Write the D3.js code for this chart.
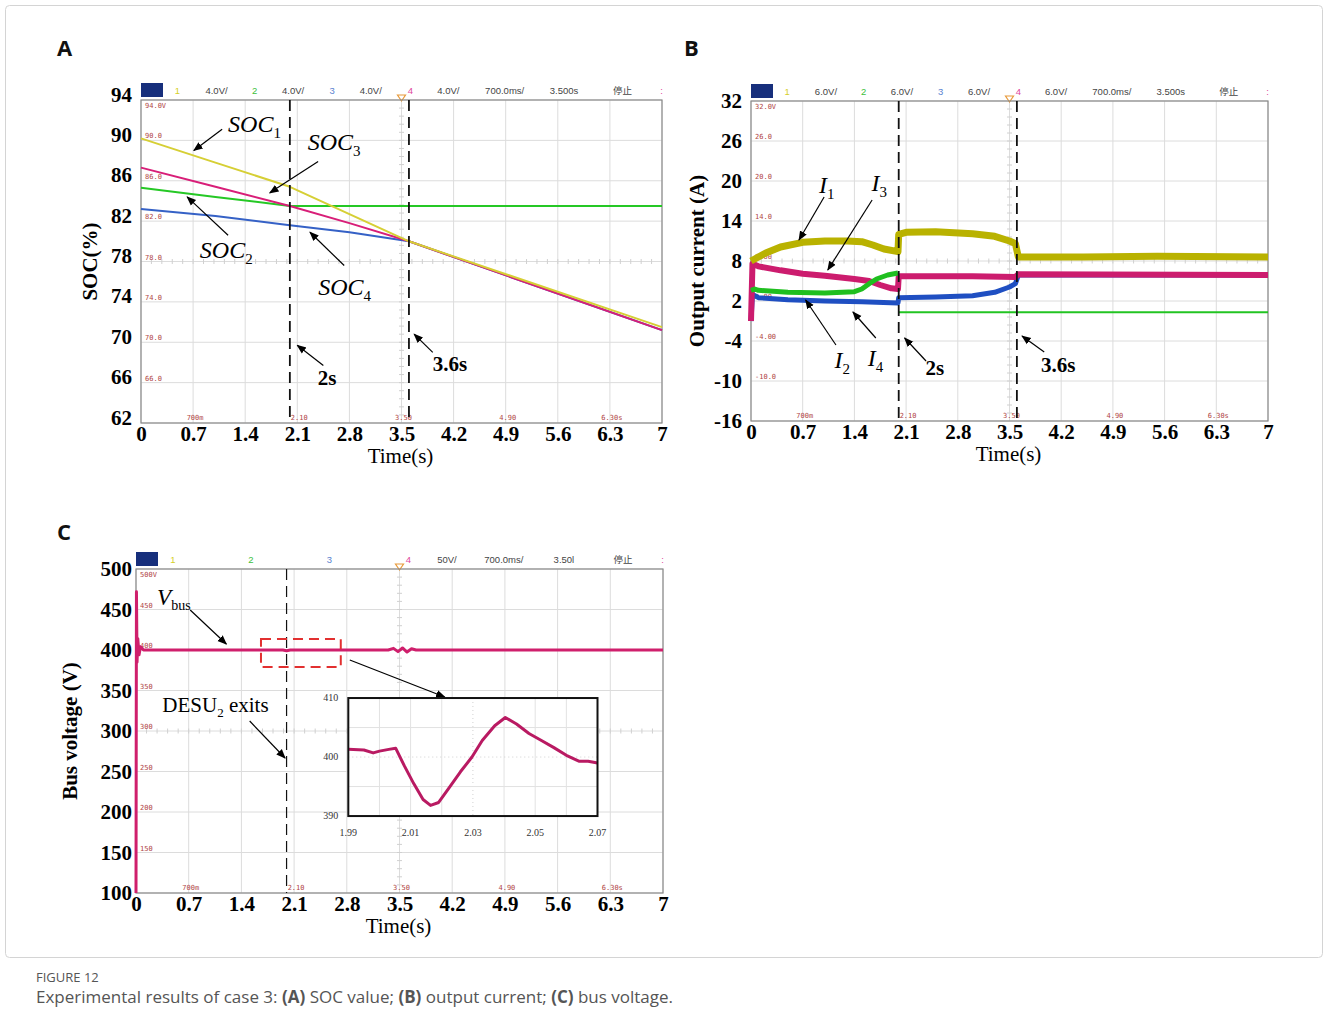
<!DOCTYPE html>
<html>
<head>
<meta charset="utf-8">
<script src="https://cdn.jsdelivr.net/npm/d3@7"></script>
<style>
body { margin: 0; background: #fff; }
</style>
</head>
<body>
<svg width="1328" height="1032" font-family="Liberation Serif, Times New Roman, serif"></svg>
<script>
const timeTicks = [0, 0.7, 1.4, 2.1, 2.8, 3.5, 4.2, 4.9, 5.6, 6.3, 7];
const socTicks = [62, 66, 70, 74, 78, 82, 86, 90, 94];
const currentTicks = [-16, -10, -4, 2, 8, 14, 20, 26, 32];
const voltTicks = [100, 150, 200, 250, 300, 350, 400, 450, 500];
const eventTimes = [2, 3.6];

// (A) SOC
const socTime = [0, 1, 2, 2.8, 3.6, 7];
const soc1 = [90.2, 87.8, 85.4, 82.7, 80.0, 71.5];
const soc2 = [85.3, 84.4, 83.5, 83.5, 83.5, 83.5];
const soc3 = [87.3, 85.4, 83.5, 81.8, 80.0, 71.2];
const soc4 = [83.2, 82.5, 81.6, 80.9, 80.0, 71.2];

// (B) output currents
const i1Time = [0, 0.05, 0.2, 0.4, 0.7, 1.0, 1.3, 1.5, 1.65, 1.8, 1.99, 2.0, 2.1, 2.5, 3.0, 3.3, 3.5, 3.58, 3.62, 4.5, 5.5, 7];
const i1 = [8.0, 8.3, 9.2, 10.1, 10.8, 11.0, 11.0, 10.9, 10.4, 9.8, 9.4, 12.0, 12.3, 12.4, 12.1, 11.7, 11.0, 10.6, 8.6, 8.6, 8.7, 8.6];
const i2Time = [0, 0.05, 0.1, 0.5, 1.0, 1.4, 1.5, 1.6, 1.7, 1.85, 1.99];
const i2 = [3.6, 3.8, 3.6, 3.3, 3.2, 3.4, 3.8, 4.6, 5.3, 5.9, 6.2];
const i2OffTime = [2, 7];
const i2Off = [0.3, 0.3];
const i3Time = [0, 0.02, 0.1, 0.4, 0.7, 1.0, 1.4, 1.6, 1.75, 1.9, 1.99, 2.0, 3.0, 3.58, 3.62, 7];
const i3 = [-1, 7.6, 7.2, 6.6, 6.1, 5.8, 5.3, 5.0, 4.4, 3.9, 3.8, 5.7, 5.7, 5.6, 6.0, 5.9];
const i4Time = [0, 0.02, 0.1, 0.5, 1.0, 1.5, 1.99, 2.0, 2.5, 3.0, 3.3, 3.5, 3.58, 3.62, 7];
const i4 = [-1, 3.0, 2.5, 2.2, 2.0, 1.9, 1.7, 2.5, 2.6, 2.8, 3.3, 4.1, 4.6, 5.9, 5.9];

// (C) bus voltage
const busTime = [0, 0.006, 0.014, 0.024, 0.04, 0.06, 0.1, 1.95, 2.0, 2.05, 3.35, 3.42, 3.48, 3.54, 3.6, 3.66, 3.72, 7];
const busVolt = [100, 472, 385, 414, 394, 404, 400, 400, 399, 400, 400, 402, 398, 402.5, 397.5, 401.5, 400, 400];
const zoomTime = [1.99, 1.995, 1.998, 2.0, 2.003, 2.0052, 2.008, 2.011, 2.014, 2.0164, 2.019, 2.022, 2.026, 2.0297, 2.033, 2.037, 2.0404, 2.044, 2.048, 2.052, 2.056, 2.06, 2.064, 2.067, 2.07];
const zoomVolt = [401.3, 401.2, 400.7, 401.0, 401.3, 401.5, 398.5, 395.5, 392.8, 391.8, 392.3, 394.5, 397.5, 400.0, 402.8, 405.3, 406.7, 405.6, 404.0, 402.8, 401.6, 400.3, 399.3, 399.3, 399.0];
const zoomTimeTicks = [1.99, 2.01, 2.03, 2.05, 2.07];
const zoomVoltTicks = [390, 400, 410];

// oscilloscope on-screen texts
const scopeTimeMarks = [0.7, 2.1, 3.5, 4.9, 6.3];
const scopeTimeLabels = ["700m", "2.10", "3.50", "4.90", "6.30s"];
const socScopeLabels = ["", "66.0", "70.0", "74.0", "78.0", "82.0", "86.0", "90.0", "94.0V"];
const currentScopeLabels = ["", "-10.0", "-4.00", "2.00", "8.00", "14.0", "20.0", "26.0", "32.0V"];
const voltScopeLabels = ["", "150", "200", "250", "300", "350", "400", "450", "500V"];
const headerA = ["1", "4.0V/", "2", "4.0V/", "3", "4.0V/", "4", "4.0V/", "700.0ms/", "3.500s", "停止", ":"];
const headerB = ["1", "6.0V/", "2", "6.0V/", "3", "6.0V/", "4", "6.0V/", "700.0ms/", "3.500s", "停止", ":"];
const headerC = ["1", "", "2", "", "3", "", "4", "50V/", "700.0ms/", "3.50l", "停止", ":"];

// ---------- layout / style ----------
const headerSlots = [0.07, 0.145, 0.218, 0.292, 0.367, 0.441, 0.517, 0.59, 0.698, 0.812, 0.924, 0.999];
const headerColors = ["#d6cf2a", "#444", "#3cbf3c", "#444", "#5a82d0", "#444", "#e0459a", "#444", "#444", "#444", "#444", "#e0459a"];

const svg = d3.select("svg");

svg.append("defs").append("marker")
    .attr("id", "arr")
    .attr("viewBox", "0 0 10 10")
    .attr("refX", 9).attr("refY", 5)
    .attr("markerWidth", 8).attr("markerHeight", 8)
    .attr("orient", "auto")
    .append("path").attr("d", "M0,1 L10,5 L0,9 z").attr("fill", "#000");

// outer figure frame
svg.append("rect")
    .attr("x", 5.5).attr("y", 5.5).attr("width", 1317).attr("height", 952)
    .attr("rx", 4).attr("fill", "none").attr("stroke", "#d4d4d4");

function scope(cfg) {
    const g = svg.append("g");
    const L = cfg.left, T = cfg.top, W = cfg.width, H = cfg.height;
    const x = d3.scaleLinear().domain([0, 7]).range([L, L + W]);
    const y = d3.scaleLinear().domain(d3.extent(cfg.yTicks)).range([T + H, T]);

    // grid
    g.selectAll(".gx").data(timeTicks).enter().append("line")
        .attr("x1", d => x(d)).attr("x2", d => x(d))
        .attr("y1", T).attr("y2", T + H)
        .attr("stroke", "#dcdcdc").attr("stroke-width", 1);
    g.selectAll(".gy").data(cfg.yTicks).enter().append("line")
        .attr("x1", L).attr("x2", L + W)
        .attr("y1", d => y(d)).attr("y2", d => y(d))
        .attr("stroke", "#dcdcdc").attr("stroke-width", 1);

    // centre axes with minor ticks
    const cx = x(3.5), cy = y(cfg.yTicks[4]);
    const dx = W / 50, dy = H / 40;
    g.selectAll(".mx").data(d3.range(1, 50)).enter().append("line")
        .attr("x1", d => L + d * dx).attr("x2", d => L + d * dx)
        .attr("y1", cy - 2.5).attr("y2", cy + 2.5)
        .attr("stroke", "#d0d0d0");
    g.selectAll(".my").data(d3.range(1, 40)).enter().append("line")
        .attr("y1", d => T + d * dy).attr("y2", d => T + d * dy)
        .attr("x1", cx - 2.5).attr("x2", cx + 2.5)
        .attr("stroke", "#d0d0d0");

    // on-screen red readouts
    g.selectAll(".rl").data(cfg.yTicks).enter().append("text")
        .attr("x", L + 4)
        .attr("y", (d, i) => i === cfg.yTicks.length - 1 ? y(d) + 8 : y(d) - 2)
        .attr("font-family", "DejaVu Sans Mono, monospace")
        .attr("font-size", 7).attr("fill", "#b04545")
        .text((d, i) => cfg.scopeLabels[i]);
    g.selectAll(".rb").data(scopeTimeMarks).enter().append("text")
        .attr("x", d => x(d) + 2).attr("y", T + H - 3)
        .attr("text-anchor", "middle")
        .attr("font-family", "DejaVu Sans Mono, monospace")
        .attr("font-size", 7).attr("fill", "#b04545")
        .text((d, i) => scopeTimeLabels[i]);

    // header bar
    g.append("rect").attr("x", L).attr("y", T - 17).attr("width", 22).attr("height", 14)
        .attr("fill", "#172f7c");
    g.selectAll(".hd").data(cfg.header).enter().append("text")
        .attr("x", (d, i) => L + headerSlots[i] * W)
        .attr("y", T - 6)
        .attr("text-anchor", "middle")
        .attr("font-family", "Liberation Sans, Noto Sans CJK SC, sans-serif")
        .attr("font-size", 9.5)
        .attr("fill", (d, i) => headerColors[i])
        .text(d => d);
    // trigger marker
    g.append("path")
        .attr("d", `M${cx - 4},${T - 5} L${cx + 4},${T - 5} L${cx},${T + 1} z`)
        .attr("fill", "none").attr("stroke", "#e89a3a").attr("stroke-width", 1.2);

    // frame
    g.append("rect").attr("x", L).attr("y", T).attr("width", W).attr("height", H)
        .attr("fill", "none").attr("stroke", "#8a8a8a").attr("stroke-width", 1.2);

    // axes
    const xa = g.append("g").attr("transform", `translate(0,${T + H})`)
        .call(d3.axisBottom(x).tickValues(timeTicks).tickSize(0).tickPadding(3).tickFormat(d => String(d)));
    const ya = g.append("g").attr("transform", `translate(${L},0)`)
        .call(d3.axisLeft(y).tickValues(cfg.yTicks).tickSize(0).tickPadding(cfg.yPad).tickFormat(d => String(d)));
    [xa, ya].forEach(a => {
        a.select(".domain").remove();
        a.selectAll("text").attr("font-family", "Liberation Serif, serif")
            .attr("font-weight", "bold").attr("font-size", 21).attr("fill", "#000");
    });
    ya.selectAll("text").attr("dy", cfg.yDy);

    g.append("text").attr("x", L + W / 2 - 1).attr("y", T + H + 40)
        .attr("text-anchor", "middle").attr("font-size", 21).text("Time(s)");
    g.append("text")
        .attr("transform", `translate(${cfg.titleX},${T + H / 2}) rotate(-90)`)
        .attr("text-anchor", "middle").attr("font-size", 21).attr("font-weight", "bold")
        .text(cfg.title);

    return { g, x, y };
}

function trace(p, t, v, color, width) {
    const line = d3.line().x((d, i) => p.x(t[i])).y(d => p.y(d));
    p.g.append("path").datum(v)
        .attr("d", line)
        .attr("fill", "none").attr("stroke", color)
        .attr("stroke-width", width).attr("stroke-linejoin", "round");
}

function eventLines(p, times, top, bottom, w) {
    p.g.selectAll(".ev").data(times).enter().append("line")
        .attr("x1", d => p.x(d)).attr("x2", d => p.x(d))
        .attr("y1", top).attr("y2", bottom)
        .attr("stroke", "#111").attr("stroke-width", w)
        .attr("stroke-dasharray", "11,6");
}

function arrow(p, from, to) {
    p.g.append("line")
        .attr("x1", p.x(from[0])).attr("y1", p.y(from[1]))
        .attr("x2", p.x(to[0])).attr("y2", p.y(to[1]))
        .attr("stroke", "#000").attr("stroke-width", 1.2)
        .attr("marker-end", "url(#arr)");
}

function mathLabel(p, n) {
    const t = p.g.append("text")
        .attr("x", p.x(n.at[0])).attr("y", p.y(n.at[1]) + 8)
        .attr("font-size", 24).attr("font-style", "italic");
    t.append("tspan").text(n.main);
    t.append("tspan").attr("dy", 6).attr("font-size", 15).attr("font-style", "normal").text(n.sub);
    arrow(p, n.from, n.to);
}

function boldLabel(p, n) {
    p.g.append("text")
        .attr("x", p.x(n.at[0])).attr("y", p.y(n.at[1]) + 7)
        .attr("text-anchor", "middle")
        .attr("font-size", 21).attr("font-weight", "bold").text(n.text);
    arrow(p, n.from, n.to);
}

// ---------- panel A ----------
const pA = scope({ left: 141, top: 100, width: 521, height: 323, yTicks: socTicks,
    scopeLabels: socScopeLabels, header: headerA, title: "SOC(%)", titleX: 97, yPad: 9, yDy: "0.05em" });
trace(pA, socTime, soc4, "#3561c6", 2);
trace(pA, socTime, soc2, "#25c825", 2);
trace(pA, socTime, soc3, "#d81e78", 2);
trace(pA, socTime, soc1, "#d6cf35", 2);
eventLines(pA, eventTimes, 100, 423, 1.8);

const socNotes = [
    { main: "SOC", sub: "1", at: [1.17, 91.6], from: [1.09, 91.1], to: [0.71, 89.0] },
    { main: "SOC", sub: "3", at: [2.24, 89.8], from: [2.38, 87.9], to: [1.73, 84.8] },
    { main: "SOC", sub: "2", at: [0.79, 79.1], from: [1.17, 80.6], to: [0.62, 84.4] },
    { main: "SOC", sub: "4", at: [2.38, 75.5], from: [2.73, 77.6], to: [2.27, 80.9] }
];
socNotes.forEach(n => mathLabel(pA, n));
boldLabel(pA, { text: "2s", at: [2.5, 66.5], from: [2.45, 67.7], to: [2.1, 69.7] });
boldLabel(pA, { text: "3.6s", at: [4.15, 67.8], from: [3.92, 69.0], to: [3.67, 70.8] });

// ---------- panel B ----------
const pB = scope({ left: 751, top: 101, width: 517, height: 320, yTicks: currentTicks,
    scopeLabels: currentScopeLabels, header: headerB, title: "Output current (A)", titleX: 704, yPad: 9, yDy: "0.32em" });
trace(pB, i2OffTime, i2Off, "#22c422", 2);
trace(pB, i4Time, i4, "#1f4fc2", 5);
trace(pB, i3Time, i3, "#cc1c6e", 6);
trace(pB, i2Time, i2, "#1fbf1f", 5);
trace(pB, i1Time, i1, "#b9b200", 7);
eventLines(pB, eventTimes, 101, 421, 1.8);

const curNotes = [
    { main: "I", sub: "1", at: [0.92, 19.4], from: [0.99, 17.6], to: [0.65, 11.15] },
    { main: "I", sub: "3", at: [1.63, 19.7], from: [1.64, 17.15], to: [1.04, 6.65] },
    { main: "I", sub: "2", at: [1.13, -6.85], from: [1.15, -4.6], to: [0.74, 2.15] },
    { main: "I", sub: "4", at: [1.58, -6.55], from: [1.69, -3.55], to: [1.38, 0.35] }
];
curNotes.forEach(n => mathLabel(pB, n));
boldLabel(pB, { text: "2s", at: [2.49, -8.05], from: [2.37, -7.0], to: [2.08, -3.55] });
boldLabel(pB, { text: "3.6s", at: [4.16, -7.6], from: [3.97, -5.65], to: [3.67, -3.25] });

// ---------- panel C ----------
const pC = scope({ left: 136, top: 569, width: 527, height: 324, yTicks: voltTicks,
    scopeLabels: voltScopeLabels, header: headerC, title: "Bus voltage (V)", titleX: 77, yPad: 4, yDy: "0.32em" });
trace(pC, busTime, busVolt, "#cf1f6c", 3);
eventLines(pC, [2], 569, 893, 1.2);

// Vbus label
const vb = pC.g.append("text").attr("x", pC.x(0.28)).attr("y", pC.y(465.4) + 8)
    .attr("font-size", 23).attr("font-style", "italic");
vb.append("tspan").text("V");
vb.append("tspan").attr("dy", 5).attr("font-size", 14).attr("font-style", "normal").text("bus");
arrow(pC, [0.72, 449.4], [1.2, 407.4]);

const de = pC.g.append("text").attr("x", pC.x(0.35)).attr("y", pC.y(332) + 7).attr("font-size", 21);
de.append("tspan").text("DESU");
de.append("tspan").attr("dy", 5).attr("font-size", 13).text("2");
de.append("tspan").attr("dy", -5).text(" exits");
arrow(pC, [1.51, 312.3], [1.98, 266.7]);

// zoom box and inset
pC.g.append("rect")
    .attr("x", pC.x(1.66)).attr("y", pC.y(413.6))
    .attr("width", pC.x(2.72) - pC.x(1.66)).attr("height", pC.y(379) - pC.y(413.6))
    .attr("fill", "none").attr("stroke", "#e23030").attr("stroke-width", 2)
    .attr("stroke-dasharray", "10,6");
arrow(pC, [2.84, 387.7], [4.1, 342]);

const xi = d3.scaleLinear().domain([1.99, 2.07]).range([pC.x(2.82), pC.x(6.13)]);
const yi = d3.scaleLinear().domain([390, 410]).range([pC.y(195), pC.y(340.7)]);
const ins = pC.g.append("g");
ins.append("rect").attr("x", xi(1.99)).attr("y", yi(410))
    .attr("width", xi(2.07) - xi(1.99)).attr("height", yi(390) - yi(410))
    .attr("fill", "#fff");
ins.selectAll(".ix").data(d3.range(1, 8)).enter().append("line")
    .attr("x1", d => xi(1.99 + d * 0.01)).attr("x2", d => xi(1.99 + d * 0.01))
    .attr("y1", yi(410)).attr("y2", yi(390))
    .attr("stroke", d => d === 4 ? "#cfcfcf" : "#e2e2e2")
    .attr("stroke-dasharray", d => d === 4 ? "1,3" : null);
ins.selectAll(".iy").data([395, 400, 405]).enter().append("line")
    .attr("x1", xi(1.99)).attr("x2", xi(2.07))
    .attr("y1", d => yi(d)).attr("y2", d => yi(d))
    .attr("stroke", d => d === 400 ? "#cfcfcf" : "#e2e2e2")
    .attr("stroke-dasharray", d => d === 400 ? "1,3" : null);
const insLine = d3.line().x((d, i) => xi(zoomTime[i])).y(d => yi(d));
ins.append("path").datum(zoomVolt).attr("d", insLine)
    .attr("fill", "none").attr("stroke", "#b91a62").attr("stroke-width", 3)
    .attr("stroke-linejoin", "round");
ins.append("rect").attr("x", xi(1.99)).attr("y", yi(410))
    .attr("width", xi(2.07) - xi(1.99)).attr("height", yi(390) - yi(410))
    .attr("fill", "none").attr("stroke", "#111").attr("stroke-width", 2);
ins.selectAll(".itx").data(zoomTimeTicks).enter().append("text")
    .attr("x", d => xi(d)).attr("y", yi(390) + 20)
    .attr("text-anchor", "middle").attr("font-size", 10).attr("fill", "#333")
    .text(d => d.toFixed(2));
ins.selectAll(".ity").data(zoomVoltTicks).enter().append("text")
    .attr("x", xi(1.99) - 10).attr("y", d => yi(d) + 3)
    .attr("text-anchor", "end").attr("font-size", 10).attr("fill", "#333")
    .text(d => d);

// ---------- panel letters and caption ----------
const letters = [["A", 57, 56], ["B", 684, 56], ["C", 57, 540]];
svg.selectAll(".pl").data(letters).enter().append("text")
    .attr("x", d => d[1]).attr("y", d => d[2])
    .attr("font-family", "Open Sans, Noto Sans, sans-serif")
    .attr("font-weight", "bold").attr("font-size", 22).attr("fill", "#111")
    .text(d => d[0]);

svg.append("text").attr("x", 36).attr("y", 982)
    .attr("font-family", "Open Sans, sans-serif").attr("font-size", 13).attr("fill", "#555")
    .text("FIGURE 12");
const cap = svg.append("text").attr("x", 36).attr("y", 1003)
    .attr("font-family", "Open Sans, sans-serif").attr("font-size", 17).attr("fill", "#555");
[["Experimental results of case 3: ", false], ["(A)", true], [" SOC value; ", false], ["(B)", true],
 [" output current; ", false], ["(C)", true], [" bus voltage.", false]].forEach(s => {
    cap.append("tspan").attr("font-weight", s[1] ? "bold" : "normal").text(s[0]);
});
</script>
</body>
</html>
